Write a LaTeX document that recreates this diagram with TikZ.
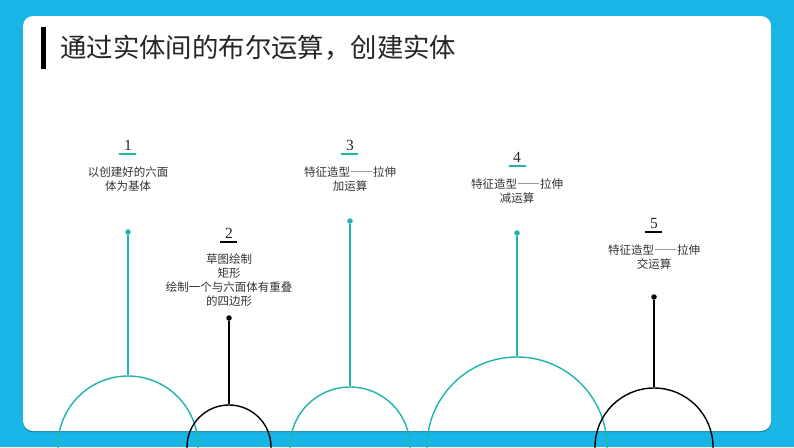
\documentclass[tikz,border=0pt]{standalone}
\usepackage{fontspec}
\newfontfamily\cjk[CharacterWidth=Full]{Noto Sans CJK SC}
\setmainfont{Liberation Serif}
\definecolor{skyb}{HTML}{17B6E6}
\definecolor{tealc}{HTML}{1FB5AD}
\definecolor{shadowc}{HTML}{0C7F9C}
\tikzset{
  desc/.style={inner sep=0pt,align=center,font=\cjk\fontsize{11.5}{14}\selectfont,text=black!80},
  num/.style={inner sep=0pt,font=\fontsize{15.5}{15.5}\selectfont,text=black!85},
  dot/.style={circle,inner sep=0pt,minimum size=5.5pt,fill=#1},
  ring/.style={circle,draw=#1,line width=1.4pt,inner sep=0pt},
  stem/.style={draw=#1,line width=1.6pt},
  rule/.style={draw=#1,line width=1.4pt}
}
\begin{document}
\begin{tikzpicture}[x=1pt,y=-1pt]
\useasboundingbox (0,0) rectangle (794,447);
\clip (0,0) rectangle (794,447);
\fill[skyb] (0,0) rectangle (794,447);
\fill[shadowc,rounded corners=10pt] (23,17.2) rectangle (771,432.2);
\fill[white,rounded corners=10pt] (23,16) rectangle (771,431);
\fill[black] (41,27) rectangle (46,69);
\node[anchor=west,inner sep=0pt,font=\cjk\fontsize{26.4}{30}\selectfont,text=black!85] (title) at (60,47.5) {通过实体间的布尔运算，创建实体};

% rings
\node[ring=tealc,minimum size=140pt] (r1) at (128,446) {};
\node[ring=tealc,minimum size=120pt] (r3) at (350,447) {};
\node[ring=tealc,minimum size=180pt] (r4) at (517,447) {};
\node[ring=black,minimum size=84pt] (r2) at (229,447) {};
\node[ring=black,minimum size=118pt] (r5) at (654,447) {};

% dots
\node[dot=tealc] (d1) at (128,232) {};
\node[dot=black] (d2) at (229,318) {};
\node[dot=tealc] (d3) at (350,221) {};
\node[dot=tealc] (d4) at (517,233) {};
\node[dot=black] (d5) at (654,297) {};
\draw[stem=tealc] (d1) -- (r1.north);
\draw[stem=black] (d2) -- (r2.north);
\draw[stem=tealc] (d3) -- (r3.north);
\draw[stem=tealc] (d4) -- (r4.north);
\draw[stem=black] (d5) -- (r5.north);

% numbers
\node[num] (n1) at (128,145.5) {1};
\node[num] (n2) at (229,233) {2};
\node[num] (n3) at (350,145.5) {3};
\node[num] (n4) at (517,157) {4};
\node[num] (n5) at (654,223.5) {5};

% rules
\coordinate (u1a) at (119,154); \coordinate (u1b) at (136,154);
\coordinate (u2a) at (220,242); \coordinate (u2b) at (237,242);
\coordinate (u3a) at (341,154); \coordinate (u3b) at (358,154);
\coordinate (u4a) at (509,166); \coordinate (u4b) at (526,166);
\coordinate (u5a) at (645,232); \coordinate (u5b) at (662,232);
\draw[rule=tealc] (u1a) -- (u1b);
\draw[rule=black] (u2a) -- (u2b);
\draw[rule=tealc] (u3a) -- (u3b);
\draw[rule=tealc] (u4a) -- (u4b);
\draw[rule=black] (u5a) -- (u5b);

% descriptions
\node[desc] (t1) at (128,179) {以创建好的六面\\体为基体};
\node[desc] (t2) at (229,280) {草图绘制\\矩形\\绘制一个与六面体有重叠\\的四边形};
\node[desc] (t3) at (350,179) {特征造型——拉伸\\加运算};
\node[desc] (t4) at (517,191) {特征造型——拉伸\\减运算};
\node[desc] (t5) at (654,257) {特征造型——拉伸\\交运算};
\end{tikzpicture}
\end{document}
